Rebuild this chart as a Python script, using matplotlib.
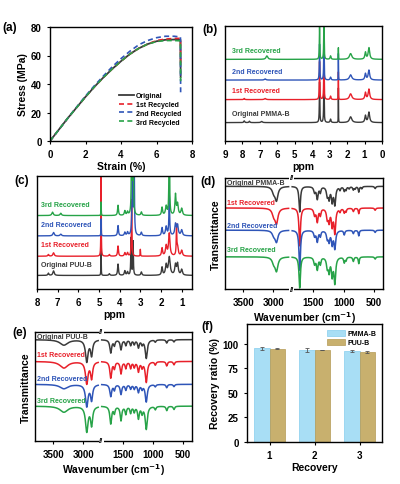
import numpy as np
import matplotlib
matplotlib.use("Agg")
import matplotlib.pyplot as plt
from matplotlib.patches import Patch

plt.rcParams['font.family'] = ['Liberation Sans', 'DejaVu Sans']
plt.rcParams['font.weight'] = 'bold'
plt.rcParams['axes.labelweight'] = 'bold'
plt.rcParams['axes.linewidth'] = 1.0
plt.rcParams['xtick.labelsize'] = 7
plt.rcParams['ytick.labelsize'] = 7
plt.rcParams['xtick.major.size'] = 2.5
plt.rcParams['ytick.major.size'] = 2.5

BLACK = "#3a3a3a"
RED = "#e8202a"
BLUE = "#2f55b8"
GREEN = "#27a348"
COLORS = [BLACK, RED, BLUE, GREEN]

# ---- (a) stress-strain
strain = [0, 0.5, 1, 1.5, 2, 2.5, 3, 3.5, 4, 4.5, 5, 5.5, 6, 6.5, 7, 7.35, 7.36]
stress_orig = [0, 8, 16, 23.5, 31, 38, 44.5, 50.5, 56, 61, 65, 68, 70, 71, 71.2, 71, 45]
stress_1st = [0, 8, 16, 23.5, 31, 38, 44.5, 50.5, 56, 61, 65, 68, 70.5, 71.5, 72, 72, 55]
stress_2nd = [0, 8, 16, 23.8, 31.5, 38.8, 45.5, 52, 57.8, 63, 67.5, 70.5, 72.5, 73.5, 73.5, 73, 32]
stress_3rd = [0, 8, 16, 23.5, 31, 38, 44.5, 50.5, 56, 61, 65, 68, 69.8, 70.5, 70.5, 70.3, 42]
recycle_names = ["Original", "1st Recycled", "2nd Recycled", "3rd Recycled"]

# ---- (b) 1H NMR PMMA-B : (ppm, height, half width)
nmr_b_orig = [(7.9, 0.015, 0.03), (7.6, 0.012, 0.03), (6.9, 0.01, 0.05), (3.58, 0.35, 0.015),
              (3.33, 0.40, 0.015), (2.95, 0.03, 0.03), (2.5, 0.30, 0.006), (1.8, 0.05, 0.08),
              (0.95, 0.06, 0.04), (0.75, 0.09, 0.05)]
nmr_b_1st = [(7.9, 0.01, 0.03), (6.7, 0.01, 0.05), (3.58, 0.33, 0.015), (3.33, 0.38, 0.015),
             (2.95, 0.03, 0.03), (2.5, 0.24, 0.006), (1.8, 0.05, 0.08), (0.95, 0.06, 0.04),
             (0.75, 0.09, 0.05)]
nmr_b_2nd = [(6.7, 0.01, 0.05), (3.58, 0.31, 0.015), (3.33, 0.36, 0.015), (2.95, 0.025, 0.03),
             (2.5, 0.23, 0.006), (1.8, 0.045, 0.08), (0.95, 0.055, 0.04), (0.75, 0.085, 0.05)]
nmr_b_3rd = [(6.6, 0.03, 0.06), (3.58, 0.28, 0.015), (3.33, 0.35, 0.015), (2.95, 0.03, 0.03),
             (2.5, 0.10, 0.006), (1.8, 0.05, 0.08), (0.95, 0.06, 0.04), (0.75, 0.1, 0.05)]
nmr_b_base = [0.16, 0.36, 0.53, 0.71]
nmr_b_names = ["Original PMMA-B", "1st Recovered", "2nd Recovered", "3rd Recovered"]

# ---- (c) 1H NMR PUU-B
nmr_c_orig = [(7.45, 0.02, 0.03), (7.2, 0.04, 0.04), (4.9, 0.22, 0.008), (4.5, 0.015, 0.03),
              (4.08, 0.10, 0.025), (3.75, 0.04, 0.03), (3.62, 0.03, 0.03), (3.45, 0.33, 0.015),
              (3.35, 0.30, 0.015), (2.95, 0.03, 0.03), (1.95, 0.07, 0.03), (1.75, 0.09, 0.04),
              (1.6, 0.16, 0.05), (1.3, 0.09, 0.04), (1.2, 0.10, 0.04), (1.0, 0.05, 0.04)]
nmr_c_1st = [(7.45, 0.015, 0.03), (7.2, 0.03, 0.04), (4.9, 1.0, 0.008), (4.5, 0.015, 0.03),
             (4.08, 0.09, 0.025), (3.75, 0.03, 0.03), (3.62, 0.03, 0.03), (3.42, 0.50, 0.015),
             (3.0, 0.06, 0.01), (1.95, 0.07, 0.03), (1.75, 0.09, 0.04), (1.6, 0.20, 0.04),
             (1.25, 0.25, 0.015), (1.2, 0.08, 0.04), (1.0, 0.05, 0.04)]
nmr_c_2nd = [(7.2, 0.03, 0.04), (6.85, 0.015, 0.04), (4.9, 0.15, 0.008), (4.08, 0.09, 0.025),
             (3.75, 0.03, 0.03), (3.62, 0.03, 0.03), (3.38, 0.8, 0.02), (3.3, 0.8, 0.015),
             (2.95, 0.03, 0.03), (1.95, 0.07, 0.03), (1.75, 0.08, 0.04), (1.6, 0.35, 0.02),
             (1.3, 0.10, 0.04), (1.2, 0.09, 0.04), (1.0, 0.05, 0.04)]
nmr_c_3rd = [(7.25, 0.03, 0.04), (6.85, 0.02, 0.04), (4.9, 0.12, 0.008), (4.08, 0.09, 0.025),
             (3.75, 0.04, 0.03), (3.62, 0.03, 0.03), (3.42, 1.0, 0.015), (3.35, 1.0, 0.015),
             (2.95, 0.03, 0.03), (1.95, 0.07, 0.03), (1.75, 0.08, 0.04), (1.6, 1.0, 0.015),
             (1.3, 0.18, 0.03), (1.2, 0.10, 0.04), (1.0, 0.06, 0.04)]
nmr_c_base = [0.12, 0.29, 0.47, 0.65]
nmr_c_names = ["Original PUU-B", "1st Recovered", "2nd Recovered", "3rd Recovered"]

# ---- (d) FTIR PMMA-B : (wavenumber, depth, half width)
ir_d_orig = [(2995, 0.05, 30), (2950, 0.12, 28), (1725, 0.23, 14), (1480, 0.05, 16),
             (1435, 0.11, 16), (1385, 0.05, 12), (1270, 0.08, 16), (1240, 0.10, 14),
             (1190, 0.13, 15), (1145, 0.16, 16), (1060, 0.03, 12), (990, 0.04, 12),
             (960, 0.03, 10), (910, 0.02, 12), (840, 0.03, 12), (810, 0.02, 10), (750, 0.05, 10),
             (700, 0.02, 10), (480, 0.02, 12)]
ir_d_1st = [(2995, 0.06, 30), (2950, 0.13, 28), (1725, 0.34, 14), (1480, 0.06, 16),
            (1435, 0.12, 16), (1385, 0.06, 12), (1270, 0.09, 16), (1240, 0.11, 14),
            (1190, 0.15, 15), (1145, 0.22, 16), (1060, 0.03, 12), (990, 0.04, 12),
            (960, 0.03, 10), (840, 0.03, 12), (750, 0.05, 10), (480, 0.02, 12)]
ir_d_2nd = [(2995, 0.04, 30), (2950, 0.10, 28), (1725, 0.36, 14), (1480, 0.05, 16),
            (1435, 0.10, 16), (1385, 0.05, 12), (1270, 0.07, 16), (1240, 0.09, 14),
            (1190, 0.12, 15), (1145, 0.16, 16), (990, 0.04, 12), (840, 0.03, 12),
            (750, 0.05, 10), (480, 0.02, 12)]
ir_d_3rd = [(2995, 0.05, 30), (2950, 0.12, 28), (1725, 0.28, 14), (1480, 0.06, 16),
            (1435, 0.11, 16), (1385, 0.06, 12), (1270, 0.09, 16), (1240, 0.12, 14),
            (1190, 0.16, 15), (1145, 0.23, 16), (990, 0.05, 12), (960, 0.03, 10),
            (840, 0.04, 12), (750, 0.06, 10), (480, 0.02, 12)]
ir_d_base = [0.925, 0.73, 0.53, 0.29]
ir_d_label_y = [0.955, 0.78, 0.57, 0.36]
ir_d_names = ["Original PMMA-B", "1st Recovered", "2nd Recovered", "3rd Recovered"]

# ---- (e) FTIR PUU-B
ir_e_orig = [(3320, 0.05, 80), (2940, 0.20, 25), (2860, 0.14, 20), (1700, 0.12, 18),
             (1640, 0.05, 14), (1530, 0.09, 16), (1450, 0.05, 14), (1370, 0.05, 14),
             (1310, 0.04, 14), (1240, 0.07, 16), (1180, 0.04, 14), (1110, 0.17, 20),
             (960, 0.02, 14), (770, 0.03, 14), (650, 0.02, 14)]
ir_e_1st = [(3320, 0.06, 80), (2940, 0.20, 25), (2860, 0.15, 20), (1700, 0.15, 18),
            (1640, 0.06, 14), (1530, 0.11, 16), (1450, 0.06, 14), (1370, 0.06, 14),
            (1310, 0.05, 14), (1240, 0.09, 16), (1180, 0.05, 14), (1110, 0.19, 20),
            (960, 0.03, 14), (770, 0.04, 14), (650, 0.03, 14)]
ir_e_2nd = [(3320, 0.04, 80), (2940, 0.20, 25), (2860, 0.14, 20), (1700, 0.11, 18),
            (1640, 0.05, 14), (1530, 0.09, 16), (1450, 0.05, 14), (1370, 0.04, 14),
            (1310, 0.04, 14), (1240, 0.07, 16), (1180, 0.04, 14), (1110, 0.16, 20),
            (960, 0.02, 14), (770, 0.03, 14), (650, 0.02, 14)]
ir_e_3rd = [(3320, 0.055, 80), (2940, 0.23, 25), (2860, 0.17, 20), (1700, 0.16, 18),
            (1640, 0.06, 14), (1530, 0.13, 16), (1450, 0.07, 14), (1370, 0.06, 14),
            (1310, 0.05, 14), (1240, 0.11, 16), (1180, 0.06, 14), (1110, 0.21, 20),
            (960, 0.03, 14), (770, 0.04, 14), (650, 0.03, 14)]
ir_e_base = [0.93, 0.73, 0.52, 0.32]
ir_e_label_y = [0.955, 0.79, 0.57, 0.37]
ir_e_names = ["Original PUU-B", "1st Recovered", "2nd Recovered", "3rd Recovered"]

# ---- (f) recovery ratio
recovery = [1, 2, 3]
pmma_ratio = [95.5, 93.5, 92.8]
pmma_err = [1.5, 1.8, 1.0]
puu_ratio = [95.0, 93.5, 92.0]
puu_err = [0.5, 0.4, 1.0]

GAP_LO, GAP_HI = 1850, 2700


def lorentz_sum(x, peaks):
    y = np.zeros_like(x)
    for pos, h, w in peaks:
        y += h / (1 + ((x - pos) / w) ** 2)
    return y


def fwd(w):
    w = np.asarray(w, dtype=float)
    top = GAP_LO + (GAP_HI - GAP_LO) * 0.01
    return np.where(w >= GAP_HI, w - GAP_HI + top,
                    np.where(w <= GAP_LO, w, GAP_LO + (w - GAP_LO) * 0.01))


def inv(x):
    x = np.asarray(x, dtype=float)
    top = GAP_LO + (GAP_HI - GAP_LO) * 0.01
    return np.where(x >= top, x - top + GAP_HI,
                    np.where(x <= GAP_LO, x, GAP_LO + (x - GAP_LO) / 0.01))


def px_axes(fig, l, t, r, b):
    W, H = 400, 485
    return fig.add_axes([l / W, 1 - b / H, (r - l) / W, (b - t) / H])


fig = plt.figure(figsize=(4.0, 4.85), dpi=100)

# (a)
ax = px_axes(fig, 50, 28, 192, 142)
styles = ['-', '--', '--', '--']
for s, c, ls, name in zip([stress_orig, stress_1st, stress_2nd, stress_3rd], COLORS, styles, recycle_names):
    ax.plot(strain, s, color=c, ls=ls, lw=1.3 if ls == '-' else 1.2, label=name,
            dashes=(3, 2) if ls == '--' else (None, None))
ax.set_xlim(0, 8)
ax.set_ylim(0, 80)
ax.set_xticks([0, 2, 4, 6, 8])
ax.set_yticks([0, 20, 40, 60, 80])
ax.set_xlabel("Strain (%)", fontsize=7.5, labelpad=1)
ax.set_ylabel("Stress (MPa)", fontsize=7.5, labelpad=2)
ax.legend(loc='lower right', bbox_to_anchor=(0.97, 0.08), frameon=False, fontsize=5,
          handlelength=2.2, labelspacing=0.25, handletextpad=0.3)
fig.text(2 / 400, 1 - 31 / 485, "(a)", fontsize=8.5, fontweight='bold')

# (b)
ax = px_axes(fig, 225, 27, 382, 142)
x = np.linspace(9, 0, 9001)
for peaks, base, c, name in zip([nmr_b_orig, nmr_b_1st, nmr_b_2nd, nmr_b_3rd], nmr_b_base, COLORS, nmr_b_names):
    ax.plot(x, base + lorentz_sum(x, peaks), color=c, lw=1.0)
    ax.text(8.6, base + 0.075, name, color=c, fontsize=5, va='center', ha='left')
ax.set_xlim(9, 0)
ax.set_ylim(0, 1)
ax.set_xticks(range(9, -1, -1))
ax.set_yticks([])
ax.set_xlabel("ppm", fontsize=7.5, labelpad=1)
fig.text(202 / 400, 1 - 33 / 485, "(b)", fontsize=8.5, fontweight='bold')

# (c)
ax = px_axes(fig, 37, 177, 192, 290)
x = np.linspace(8, 0.5, 9001)
for peaks, base, c, name in zip([nmr_c_orig, nmr_c_1st, nmr_c_2nd, nmr_c_3rd], nmr_c_base, COLORS, nmr_c_names):
    ax.plot(x, base + lorentz_sum(x, peaks), color=c, lw=1.0)
    ax.text(7.8, base + 0.1, name, color=c, fontsize=5, va='center', ha='left')
ax.set_xlim(8, 0.5)
ax.set_ylim(0, 1)
ax.set_xticks(range(8, 0, -1))
ax.set_yticks([])
ax.set_xlabel("ppm", fontsize=7.5, labelpad=1)
fig.text(14 / 400, 1 - 184 / 485, "(c)", fontsize=8.5, fontweight='bold')


def ir_panel(ax, spectra, bases, label_y, names):
    ax.set_xscale('function', functions=(fwd, inv))
    left = np.linspace(3800, 2750, 1500)
    right = np.linspace(1850, 350, 3000)
    for peaks, base, c in zip(spectra, bases, COLORS):
        ax.plot(left, base - lorentz_sum(left, peaks), color=c, lw=1.1)
        ax.plot(right, base - lorentz_sum(right, peaks), color=c, lw=1.1)
    for ly, c, name in zip(label_y, COLORS, names):
        ax.text(3770, ly, name, color=c, fontsize=5, va='center', ha='left')
    ax.set_xlim(3800, 350)
    ax.set_ylim(0, 1)
    ax.set_xticks([3500, 3000, 1500, 1000, 500])
    ax.set_xticklabels(["3500", "3000", "1500", "1000", "500"])
    ax.xaxis.set_minor_locator(matplotlib.ticker.NullLocator())
    ax.set_yticks([])
    ax.set_xlabel("Wavenumber (cm$^{\\mathbf{-1}}$)", fontsize=7.5, labelpad=1)
    ax.set_ylabel("Transmittance", fontsize=7.5, labelpad=3)
    bt = ax.get_xaxis_transform()
    for yy in (1.0, 0.0):
        ax.text(2275, yy, "//", transform=bt, fontsize=5.5, ha='center', va='center',
                clip_on=False, bbox=dict(facecolor='white', edgecolor='none', pad=0.2))


# (d)
ax = px_axes(fig, 225, 179, 383, 290)
ir_panel(ax, [ir_d_orig, ir_d_1st, ir_d_2nd, ir_d_3rd], ir_d_base, ir_d_label_y, ir_d_names)
fig.text(200 / 400, 1 - 185 / 485, "(d)", fontsize=8.5, fontweight='bold')

# (e)
ax = px_axes(fig, 35, 333, 192, 442)
ir_panel(ax, [ir_e_orig, ir_e_1st, ir_e_2nd, ir_e_3rd], ir_e_base, ir_e_label_y, ir_e_names)
fig.text(12 / 400, 1 - 336 / 485, "(e)", fontsize=8.5, fontweight='bold')

# (f)
ax = px_axes(fig, 247, 325, 382, 443)
xr = np.array(recovery)
bw = 0.35
ax.bar(xr - bw / 2, pmma_ratio, bw, color="#a8def5", edgecolor="#86cdee", lw=0.5,
       yerr=pmma_err, error_kw=dict(ecolor="#555555", elinewidth=0.6, capsize=1.2, capthick=0.6))
ax.bar(xr + bw / 2, puu_ratio, bw, color="#c8b06e", edgecolor="#b49a55", lw=0.5,
       yerr=puu_err, error_kw=dict(ecolor="#555555", elinewidth=0.6, capsize=1.2, capthick=0.6))
ax.set_xlim(0.5, 3.5)
ax.set_ylim(0, 120)
ax.set_xticks(recovery)
ax.set_yticks([0, 25, 50, 75, 100])
ax.set_xlabel("Recovery", fontsize=7.5, labelpad=1)
ax.set_ylabel("Recovery ratio (%)", fontsize=7.5, labelpad=2)
handles = [Patch(facecolor="#a8def5", edgecolor="#86cdee", lw=0.5, label="PMMA-B"),
           Patch(facecolor="#c8b06e", edgecolor="#b49a55", lw=0.5, label="PUU-B")]
ax.legend(handles=handles, loc='upper right', frameon=False, fontsize=5,
          handlelength=2.6, handleheight=1.1, labelspacing=0.2, handletextpad=0.3,
          borderaxespad=0.4)
fig.text(201 / 400, 1 - 330 / 485, "(f)", fontsize=8.5, fontweight='bold')

fig.savefig("out.png", dpi=100)
